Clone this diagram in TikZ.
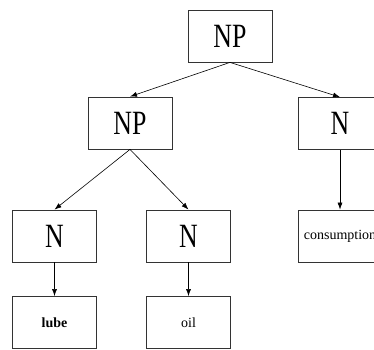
\documentclass[tikz,border=0pt]{standalone}
\usepackage{fontspec}
\usepackage{graphicx}
\setmainfont{Liberation Serif}
\usetikzlibrary{arrows.meta}
\tikzset{
  box/.style={draw=black!80, line width=0.8pt, rectangle, minimum width=84pt,
    minimum height=52pt, inner sep=0pt, anchor=center},
  cat/.style={box, font=\fontsize{34}{34}\selectfont},
  word/.style={box, font=\fontsize{14}{14}\selectfont},
  link/.style={-{Latex[length=7pt,width=5pt]}, line width=0.6pt, black}
}
\newcommand{\narrow}[1]{\scalebox{0.76}[1]{#1}}
\begin{document}
\begin{tikzpicture}[x=1pt,y=-1pt]
  \clip (0,0) rectangle (374,349);
  \useasboundingbox (0,0) rectangle (374,349);
  % phrase nodes
  \node[cat] (np1) at (230,36) {\narrow{NP}};
  \node[cat] (np2) at (130,123) {\narrow{NP}};
  \node[cat] (n3) at (340,123.5) {\narrow{N}};
  % noun nodes
  \node[cat] (n1) at (54.5,236) {\narrow{N}};
  \node[cat] (n2) at (188.5,236) {\narrow{N}};
  \node[word] (w3) at (340,236) {consumption};
  % leaves
  \node[word] (w1) at (54.5,322.5) {\textbf{lube}};
  \node[word] (w2) at (188.5,322.5) {oil};
  % edges
  \draw[link] (np1.south) -- (np2.north);
  \draw[link] (np1.south) -- (n3.north);
  \draw[link] (np2.south) -- (n1.north);
  \draw[link] (np2.south) -- (n2.north);
  \draw[link] (n3.south) -- (w3.north);
  \draw[link] (n1.south) -- (w1.north);
  \draw[link] (n2.south) -- (w2.north);
\end{tikzpicture}
\end{document}
